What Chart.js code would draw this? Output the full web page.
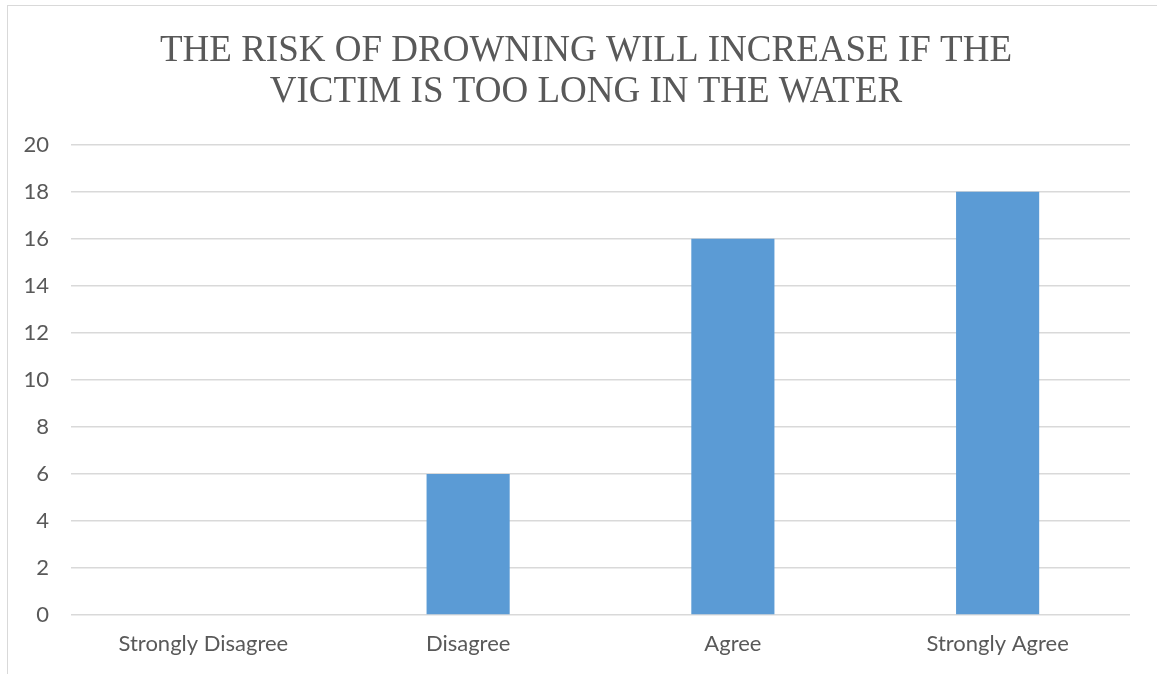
<!DOCTYPE html>
<html>
<head>
<meta charset="utf-8">
<script src="https://cdn.jsdelivr.net/npm/chart.js@4/dist/chart.umd.min.js"></script>
<style>
  body { margin: 0; background: #fff; }
  #frame { position: absolute; left: 7px; top: 5px; width: 1200px; height: 700px;
           border-left: 1px solid #d9d9d9; border-top: 1px solid #d9d9d9; }
  #meinChart { position: absolute; left: 0; top: 0; }
</style>
</head>
<body>
<div id="frame"></div>
<canvas id="meinChart" width="1157" height="674"></canvas>
<script>
// data
const categories = ['Strongly Disagree', 'Disagree', 'Agree', 'Strongly Agree'];
const counts = [0, 6, 16, 18];
const titleLines = ['THE RISK OF DROWNING WILL INCREASE IF THE', 'VICTIM IS TOO LONG IN THE WATER'];

const textGray = '#595959';
const gridGray = '#d9d9d9';

const data = {
  labels: categories,
  datasets: [{
    label: 'Responses',
    backgroundColor: '#5b9bd5',
    borderWidth: 0,
    data: counts,
    categoryPercentage: 1,
    barPercentage: 0.314
  }]
};

// the title is centred on the framed box, not the canvas: nudge its block
const shiftTitle = {
  id: 'shiftTitle',
  afterLayout: function (chart) {
    if (chart.titleBlock) chart.titleBlock.left = 42;
  }
};

const config = {
  type: 'bar',
  data: data,
  plugins: [shiftTitle],
  options: {
    responsive: false,
    animation: false,
    layout: { padding: { left: 0, right: 27, top: 30, bottom: 0 } },
    plugins: {
      legend: { display: false },
      tooltip: { enabled: false },
      title: {
        display: true,
        text: titleLines,
        color: textGray,
        font: { family: '"Liberation Serif", "Times New Roman", serif', size: 37, weight: 'normal', lineHeight: 1.13 },
        padding: { top: 0, bottom: 31 }
      }
    },
    scales: {
      x: {
        afterFit: function (scale) { scale.height = 59; },
        grid: { display: false },
        border: { display: false },
        ticks: { color: textGray, padding: 8, maxRotation: 0, font: { family: 'Lato', size: 22 } }
      },
      y: {
        min: 0,
        max: 20,
        afterFit: function (scale) { scale.width = 71; },
        grid: { color: gridGray, lineWidth: 1.5, drawTicks: false },
        border: { display: false },
        ticks: { stepSize: 2, color: textGray, padding: 22, font: { family: 'Lato', size: 22 } }
      }
    }
  }
};

const myChart = new Chart(document.getElementById('meinChart'), config);
</script>
</body>
</html>
